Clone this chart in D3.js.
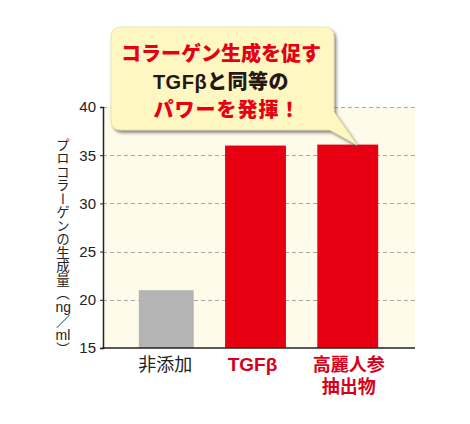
<!DOCTYPE html>
<html><head><meta charset="utf-8">
<script src="https://cdn.jsdelivr.net/npm/d3@7"></script>
<style>
html,body{margin:0;padding:0;background:#fff;}
body{position:relative;width:470px;height:424px;overflow:hidden;}
svg{display:block;position:absolute;left:0;top:0;}
text{font-family:"Noto Sans CJK JP","Liberation Sans",sans-serif;}
#ytitle{position:absolute;writing-mode:vertical-rl;font-family:"Noto Sans CJK JP",sans-serif;color:#222;white-space:nowrap;}
#ytitle .tcy{text-combine-upright:all;font-family:"Liberation Sans",sans-serif;}
#ytitle .up{text-orientation:upright;}
.xlab{position:absolute;width:120px;text-align:center;line-height:22px;white-space:pre;}
</style></head>
<body>
<svg id="c" width="470" height="424"></svg>
<script>
const categories = ["非添加", "TGFβ", "高麗人参抽出物"];
const categoryLines = [["非添加"], ["TGFβ"], ["高麗人参", "抽出物"]];
const values = [21, 36, 36.1];
const yTicks = [15, 20, 25, 30, 35, 40];
const bubbleLines = ["コラーゲン生成を促す", "TGFβと同等の", "パワーを発揮！"];
const yTitleParts = [
  { t: "プロコラーゲンの生成量（", k: "jp" },
  { t: "ng", k: "tcy" },
  { t: "／", k: "up" },
  { t: "ml", k: "tcy" },
  { t: "）", k: "jp" }
];

const svg = d3.select("#c");
const pLeft = 103, pRight = 415, pTop = 107, pBottom = 348;

const y = d3.scaleLinear().domain([15, 40]).range([pBottom, pTop]);
const x = d3.scaleBand().domain(categories).range([119, 392]).paddingInner(0.34).paddingOuter(0.15);

// plot background
svg.append("rect").attr("x", pLeft).attr("y", pTop).attr("width", pRight - pLeft).attr("height", pBottom - pTop)
  .attr("fill", "#fffbea");

// gridlines
svg.append("g").selectAll("line").data(yTicks.filter(d => d > 15)).join("line")
  .attr("x1", pLeft).attr("x2", pRight)
  .attr("y1", d => Math.round(y(d)) + 0.5).attr("y2", d => Math.round(y(d)) + 0.5)
  .attr("stroke", "#aaa").attr("stroke-width", 1).attr("stroke-dasharray", "4,3");

// bars
svg.append("g").selectAll("rect").data(values).join("rect")
  .attr("x", (d, i) => x(categories[i]) + (i === 0 ? 6 : 0))
  .attr("width", (d, i) => x.bandwidth() - (i === 0 ? 6 : 0))
  .attr("y", d => y(d)).attr("height", d => pBottom - y(d))
  .attr("fill", (d, i) => i === 0 ? "#b4b4b4" : "#e60012");

// axes
const yAxis = d3.axisLeft(y).tickValues(yTicks).tickSize(3).tickPadding(4);
const gy = svg.append("g").attr("transform", `translate(${pLeft},0)`).call(yAxis);
gy.select(".domain").attr("stroke", "#222").attr("stroke-width", 1.5);
gy.selectAll(".tick line").attr("stroke", "#222");
gy.selectAll(".tick text").attr("fill", "#222").style("font-family", "'Liberation Sans',Arial,sans-serif").style("font-size", "15px");

svg.append("line").attr("x1", pLeft - 0.75).attr("x2", pRight).attr("y1", pBottom).attr("y2", pBottom)
  .attr("stroke", "#222").attr("stroke-width", 1.5);

// x labels (HTML, one element per label; multi-line via preserved newline)
const labelDx = [2, -3, 1];
const labelTop = [352, 353.5, 352];
categoryLines.forEach((lines, i) => {
  const cx = x(categories[i]) + x.bandwidth() / 2 + labelDx[i];
  d3.select("body").append("div").attr("class", "xlab")
    .style("left", (cx - 60) + "px").style("top", labelTop[i] + "px")
    .style("color", i === 0 ? "#222" : "#d7001a")
    .style("font-weight", i === 0 ? "normal" : "bold")
    .style("font-family", (i === 1) ? "'Liberation Sans','Noto Sans CJK JP',sans-serif" : "'Noto Sans CJK JP',sans-serif")
    .style("font-size", i === 1 ? "19px" : "18px")
    .text(lines.join("\n"));
});

// y title (vertical writing, HTML for tate-chu-yoko)
const yt = d3.select("body").append("div").attr("id", "ytitle")
  .style("left", "55px").style("top", "138px").style("font-size", "13.5px").style("line-height", "15px");
yTitleParts.forEach(p => {
  yt.append("span").attr("class", p.k)
    .style("font-size", p.k === "jp" ? null : "14px")
    .text(p.t);
});

// bubble
const defs = svg.append("defs");
const f = defs.append("filter").attr("id", "sh").attr("x", "-10%").attr("y", "-10%").attr("width", "130%").attr("height", "140%");
f.append("feDropShadow").attr("dx", 2).attr("dy", 2.5).attr("stdDeviation", 1.5).attr("flood-color", "#555").attr("flood-opacity", 0.7);

const bx0 = 111, by0 = 27, bx1 = 334, by1 = 130, r = 10;
const p = d3.path();
p.moveTo(bx0 + r, by0);
p.lineTo(bx1 - r, by0);
p.quadraticCurveTo(bx1, by0, bx1, by0 + r);
p.lineTo(bx1, 112);
p.lineTo(357, 145);
p.lineTo(bx1 - 4, by1);
p.lineTo(bx0 + r, by1);
p.quadraticCurveTo(bx0, by1, bx0, by1 - r);
p.lineTo(bx0, by0 + r);
p.quadraticCurveTo(bx0, by0, bx0 + r, by0);
p.closePath();
svg.append("path").attr("d", p.toString()).attr("fill", "#fff7c2").attr("stroke", "#e8dfa8").attr("stroke-width", 0.8).attr("filter", "url(#sh)");

const bl = svg.append("g").attr("text-anchor", "middle").attr("font-weight", 900).style("font-size", "20px");
bl.append("text").attr("x", 221).attr("y", 61).attr("fill", "#e60012").text(bubbleLines[0]);
bl.append("text").attr("x", 221).attr("y", 89).attr("fill", "#231815").attr("letter-spacing", "0.5px")
  .style("font-family", "'Liberation Sans','Noto Sans CJK JP',sans-serif").text(bubbleLines[1]);
bl.append("text").attr("x", 227).attr("y", 117).attr("fill", "#e60012").attr("letter-spacing", "1px").text(bubbleLines[2]);
</script>
</body></html>
